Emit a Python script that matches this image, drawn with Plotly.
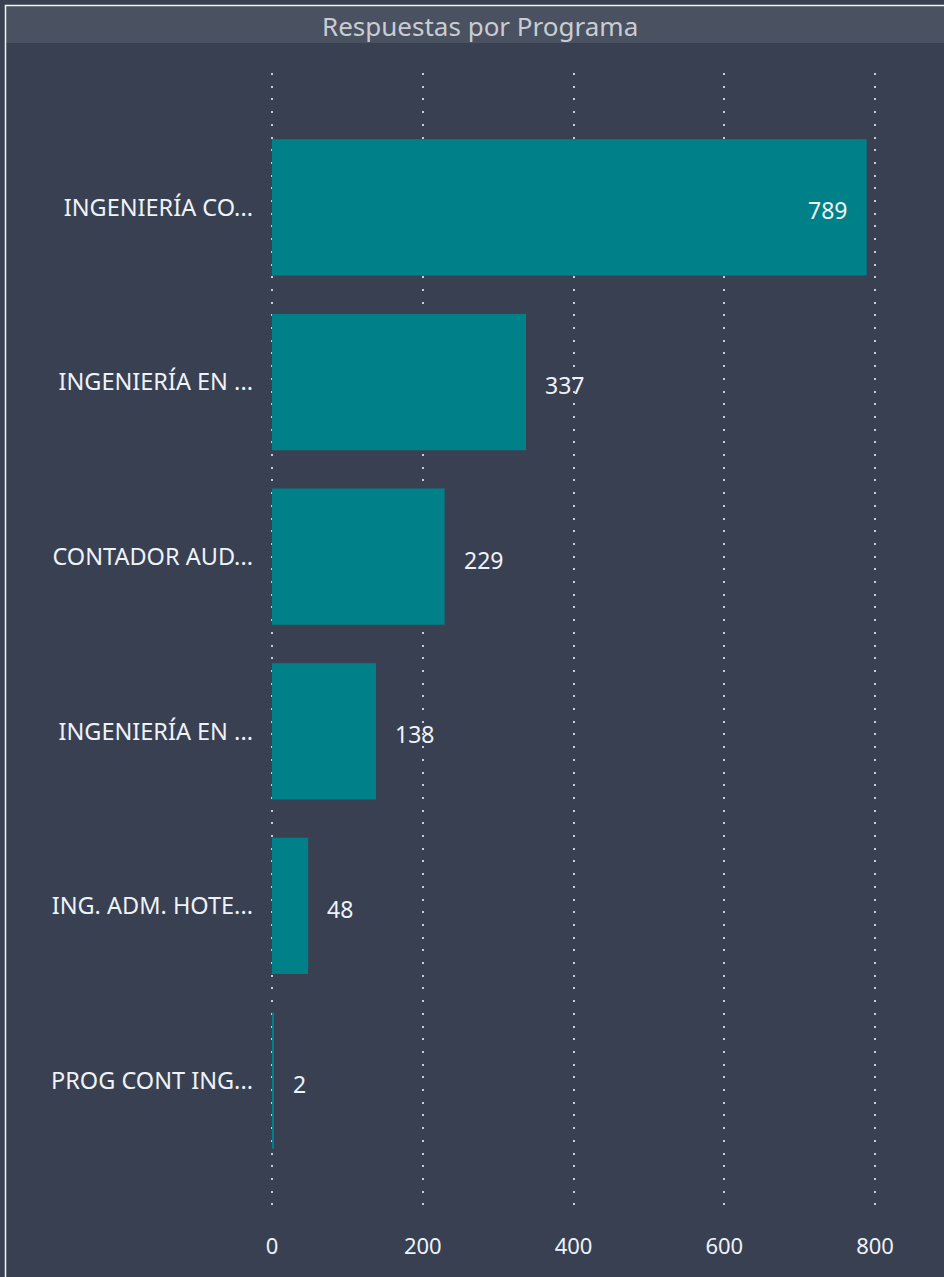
import plotly.graph_objects as go

programas = [
    "INGENIERÍA CO...",
    "INGENIERÍA EN ...",
    "CONTADOR AUD...",
    "INGENIERÍA EN ...",
    "ING. ADM. HOTE...",
    "PROG CONT ING...",
]
respuestas = [789, 337, 229, 138, 48, 2]
etiqueta_dentro = [True, False, False, False, False, False]
ticks_x = [0, 200, 400, 600, 800]

W, H = 944, 1277
BG = "#394052"
TEAL = "#008189"
FONT = "Noto Sans"
TXT = "#eef3f8"

# plot area in pixels (left, right, top, bottom)
PL, PR, PT, PB = 267, 898, 73, 1215
ESCALA = 603 / 800  # px per unit
X0 = -5 / ESCALA    # start a bit below 0 so the 0 gridline is kept

idx = list(range(len(programas)))

fig = go.Figure(go.Bar(
    x=respuestas,
    y=idx,
    orientation="h",
    marker=dict(color=TEAL, line=dict(width=0)),
    width=0.78,
    hoverinfo="skip",
))

# data labels, Power BI style (padded away from the bar end)
etiquetas = []
for i, (v, dentro) in enumerate(zip(respuestas, etiqueta_dentro)):
    etiquetas.append(dict(
        x=v, y=i, xref="x", yref="y", text=str(v), showarrow=False,
        xanchor="right" if dentro else "left", yanchor="middle",
        xshift=-18 if dentro else 17, yshift=-3,
        font=dict(family=FONT, size=23, color=TXT),
    ))

etiquetas.append(dict(
    text="Respuestas por Programa", xref="paper", yref="paper",
    x=480 / W, y=1 - 26 / H, xanchor="center", yanchor="middle",
    showarrow=False, font=dict(family=FONT, size=26, color="#c9cdd3"),
))

fig.update_layout(
    width=W, height=H,
    paper_bgcolor=BG, plot_bgcolor=BG,
    margin=dict(l=0, r=0, t=0, b=0),
    showlegend=False,
    font=dict(family=FONT, color=TXT),
    xaxis=dict(
        domain=[PL / W, PR / W],
        range=[X0, X0 + (PR - PL) / ESCALA],
        tickvals=ticks_x,
        showgrid=True,
        gridcolor="#c9ccd2",
        griddash="2px,10.7px",
        gridwidth=2,
        zeroline=False,
        showline=False,
        ticks="",
        ticklabelstandoff=16,
        tickfont=dict(family=FONT, size=22, color=TXT),
        automargin=False,
    ),
    yaxis=dict(
        domain=[(H - PB) / H, (H - PT) / H],
        range=[5.77, -0.77],
        tickvals=idx,
        ticktext=programas,
        showgrid=False,
        zeroline=False,
        showline=False,
        ticks="",
        ticklabelstandoff=13,
        tickfont=dict(family=FONT, size=23.5, color=TXT),
        automargin=False,
    ),
    shapes=[
        # title band
        dict(type="rect", xref="paper", yref="paper",
             x0=6 / W, x1=1.0, y0=1 - 43 / H, y1=1 - 6 / H,
             fillcolor="#4a5161", line=dict(width=0), layer="below"),
        # outer border (runs off the right and bottom edges)
        dict(type="rect", xref="paper", yref="paper",
             x0=5.5 / W, x1=1.02, y0=-0.02, y1=1 - 5.5 / H,
             fillcolor="rgba(0,0,0,0)", line=dict(color="#f2f4f7", width=1.5)),
    ],
    annotations=etiquetas,
)

fig.write_html("out.html", config={"displayModeBar": False},
               post_script="document.body.style.margin='0';")
